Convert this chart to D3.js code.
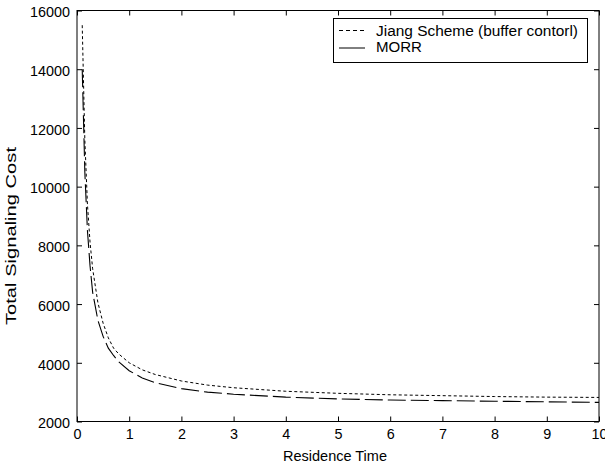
<!DOCTYPE html>
<html>
<head>
<meta charset="utf-8">
<script src="https://cdn.jsdelivr.net/npm/d3@7"></script>
<style>
  body { margin: 0; background: #fff; }
  svg { display: block; font-family: "Liberation Sans", Arial, sans-serif; }
</style>
</head>
<body>
<svg width="605" height="464"></svg>
<script>
const box = {left: 77, right: 599, top: 10.5, bottom: 421.5};

// residence time samples
const residence = [0.1, 0.15, 0.2, 0.25, 0.3, 0.4, 0.5, 0.6, 0.7, 0.8, 1, 1.25, 1.5, 2, 2.5, 3, 4, 5, 6, 7, 8, 9, 10];
// Jiang Scheme (buffer control)
const jiang = [15500, 11600, 9400, 8100, 7200, 6050, 5350, 4850, 4500, 4300, 4000, 3760, 3600, 3380, 3240, 3150, 3030, 2960, 2910, 2880, 2850, 2830, 2820];
// MORR
const morr = [14000, 10500, 8500, 7300, 6400, 5450, 4900, 4500, 4250, 4030, 3730, 3480, 3320, 3120, 3000, 2930, 2830, 2770, 2730, 2710, 2690, 2670, 2650];

const xTicks = [0, 1, 2, 3, 4, 5, 6, 7, 8, 9, 10];
const yTicks = [2000, 4000, 6000, 8000, 10000, 12000, 14000, 16000];
const legendNames = ["Jiang Scheme (buffer contorl)", "MORR"];

const svg = d3.select("svg");

const x = d3.scaleLinear().domain([0, 10]).range([box.left, box.right]);
const y = d3.scaleLinear().domain([2000, 16000]).range([box.bottom, box.top]);

// curves
const line = d3.line().x(d => x(d[0])).y(d => y(d[1]));

svg.append("path")
    .datum(d3.zip(residence, jiang))
    .attr("d", line)
    .attr("fill", "none")
    .attr("stroke", "#000")
    .attr("stroke-width", 1)
    .attr("stroke-dasharray", "3,2.5");

svg.append("path")
    .datum(d3.zip(residence, morr))
    .attr("d", line)
    .attr("fill", "none")
    .attr("stroke", "#000")
    .attr("stroke-width", 1.1)
    .attr("stroke-dasharray", "18,5");

// axes, ticks pointing inward on all four sides
const axisStyle = g => {
    g.select(".domain").remove();
    g.selectAll("line").attr("stroke", "#000");
    g.selectAll("text").attr("fill", "#000").style("font-size", "14px");
};

svg.append("g")
    .attr("transform", `translate(0,${box.bottom})`)
    .call(d3.axisBottom(x).tickValues(xTicks).tickSize(-5).tickPadding(8).tickFormat(d3.format("d")))
    .call(axisStyle)
    .selectAll("text")
    .attr("textLength", d => String(d).length * 8)
    .attr("lengthAdjust", "spacingAndGlyphs");

svg.append("g")
    .attr("transform", `translate(0,${box.top})`)
    .call(d3.axisTop(x).tickValues(xTicks).tickSize(-5).tickFormat(""))
    .call(axisStyle);

svg.append("g")
    .attr("transform", `translate(${box.left},0)`)
    .call(d3.axisLeft(y).tickValues(yTicks).tickSize(-5).tickPadding(7).tickFormat(d3.format("d")))
    .call(axisStyle)
    .selectAll("text")
    .attr("dy", "0.45em")
    .attr("textLength", d => String(d).length * 8)
    .attr("lengthAdjust", "spacingAndGlyphs");

svg.append("g")
    .attr("transform", `translate(${box.right},0)`)
    .call(d3.axisRight(y).tickValues(yTicks).tickSize(-5).tickFormat(""))
    .call(axisStyle);

// frame
svg.append("rect")
    .attr("x", box.left)
    .attr("y", box.top)
    .attr("width", box.right - box.left)
    .attr("height", box.bottom - box.top)
    .attr("fill", "none")
    .attr("stroke", "#000");

// axis titles
svg.append("text")
    .attr("x", 335)
    .attr("y", 461)
    .attr("text-anchor", "middle")
    .attr("textLength", 104)
    .attr("lengthAdjust", "spacingAndGlyphs")
    .style("font-size", "14.5px")
    .text("Residence Time");

svg.append("text")
    .attr("transform", `translate(16,${(box.top + box.bottom) / 2 + 20}) rotate(-90)`)
    .attr("text-anchor", "middle")
    .attr("textLength", 178)
    .attr("lengthAdjust", "spacingAndGlyphs")
    .style("font-size", "14px")
    .text("Total Signaling Cost");

// legend
const legend = svg.append("g");
legend.append("rect")
    .attr("x", 333.5).attr("y", 18.5)
    .attr("width", 254).attr("height", 44)
    .attr("fill", "#fff").attr("stroke", "#000");

const dashes = ["4,3", null];
const legendWidths = [202, 46];
legendNames.forEach((name, i) => {
    legend.append("line")
        .attr("x1", 339).attr("x2", 365)
        .attr("y1", 30.5 + i * 17.5).attr("y2", 30.5 + i * 17.5)
        .attr("stroke", "#000")
        .attr("stroke-dasharray", dashes[i]);
    legend.append("text")
        .attr("x", 376).attr("y", 35.5 + i * 16.5)
        .attr("textLength", legendWidths[i])
        .attr("lengthAdjust", "spacingAndGlyphs")
        .style("font-size", "14px")
        .text(name);
});
</script>
</body>
</html>
